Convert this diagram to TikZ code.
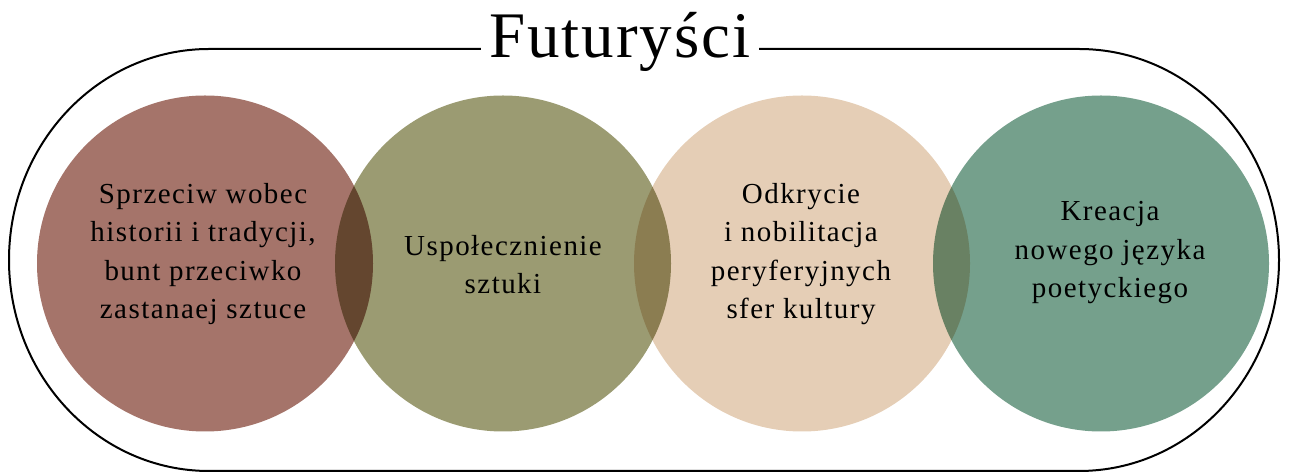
\documentclass[tikz,border=0pt]{standalone}
\usepackage{fontspec}
\setmainfont{Liberation Serif}
\newfontfamily\titlefont[LetterSpace=3]{Liberation Serif}
\newfontfamily\blobfont[LetterSpace=5]{Liberation Serif}
\usetikzlibrary{positioning}
\definecolor{rosy}{RGB}{165,116,106}
\definecolor{olive}{RGB}{155,155,114}
\definecolor{sand}{RGB}{229,206,182}
\definecolor{sage}{RGB}{117,160,140}
\tikzset{
  blob/.style={circle, minimum size=336pt, inner sep=0pt, draw=none, blend mode=multiply},
  blobtext/.style={align=center, font=\blobfont\fontsize{29}{38.5}\selectfont},
}
\begin{document}
\begin{tikzpicture}[x=1pt,y=1pt]
      \useasboundingbox (0,0) rectangle (1289,473);
      \draw[line width=2pt]
        (209,424) -- (1079,424)
        arc[start angle=90, end angle=-90, x radius=200, y radius=211]
        -- (209,2)
        arc[start angle=270, end angle=90, x radius=200, y radius=211]
        -- cycle;
      \node[anchor=base, fill=white, inner xsep=8pt, font=\titlefont\fontsize{65}{70}\selectfont]
        (title) at (620,415) {Futuryści};
      \begin{scope}
        \node[blob, fill=rosy] (c1) at (205,209.5) {};
        \node[blob, fill=olive] (c2) at (503,209.5) {};
        \node[blob, fill=sand] (c3) at (802,209.5) {};
        \node[blob, fill=sage] (c4) at (1101,209.5) {};
      \end{scope}
      \node[blobtext] (t1) at (203,219) {Sprzeciw wobec\\historii i tradycji,\\bunt przeciwko\\zastanaej sztuce};
      \node[blobtext] (t2) at (503,208.5) {Uspołecznienie\\sztuki};
      \node[blobtext] (t3) at (801,219) {Odkrycie\\i nobilitacja\\peryferyjnych\\sfer kultury};
      \node[blobtext] (t4) at (1110,220) {Kreacja\\nowego języka\\poetyckiego};
    \end{tikzpicture}
\end{document}
